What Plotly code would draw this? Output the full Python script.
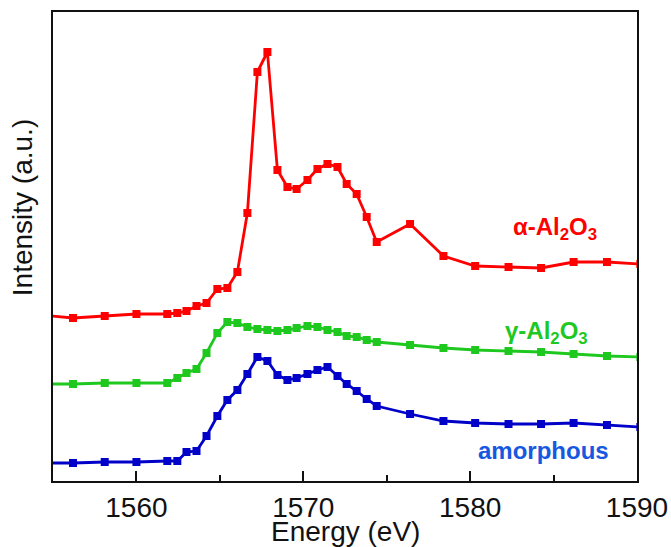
import plotly.graph_objects as go

# Energy (eV) values
energy = [1554.3, 1556.2, 1558.1, 1560.0, 1561.85, 1562.45, 1563.0, 1563.6, 1564.2, 1564.85,
          1565.45, 1566.05, 1566.65, 1567.25, 1567.85, 1568.45, 1569.05, 1569.6, 1570.25,
          1570.85, 1571.45, 1572.05, 1572.6, 1573.2, 1573.8, 1574.4, 1576.4, 1578.4, 1580.3,
          1582.3, 1584.25, 1586.2, 1588.2, 1590.2]

alpha_al2o3 = [1.65, 1.62, 1.64, 1.66, 1.66, 1.67, 1.69, 1.74, 1.77, 1.91,
               1.92, 2.08, 2.67, 4.08, 4.28, 3.10, 2.93, 2.91, 3.00,
               3.11, 3.16, 3.13, 2.96, 2.86, 2.63, 2.38, 2.56, 2.24, 2.14,
               2.13, 2.12, 2.18, 2.18, 2.16]

gamma_al2o3 = [0.96, 0.96, 0.97, 0.97, 0.97, 1.02, 1.07, 1.11, 1.27, 1.47,
               1.58, 1.57, 1.53, 1.51, 1.50, 1.49, 1.50, 1.52, 1.54,
               1.53, 1.50, 1.48, 1.44, 1.43, 1.40, 1.38, 1.35, 1.32, 1.30,
               1.29, 1.28, 1.26, 1.24, 1.23]

amorphous = [0.17, 0.17, 0.18, 0.18, 0.19, 0.19, 0.28, 0.29, 0.44, 0.64,
             0.80, 0.90, 1.06, 1.23, 1.19, 1.05, 1.00, 1.02, 1.06,
             1.10, 1.13, 1.04, 0.96, 0.89, 0.81, 0.74, 0.66, 0.59, 0.57,
             0.56, 0.56, 0.57, 0.55, 0.53]

series = [
    ("α-Al2O3", alpha_al2o3, "#ff0000"),
    ("γ-Al2O3", gamma_al2o3, "#1ec81e"),
    ("amorphous", amorphous, "#0000c8"),
]

fig = go.Figure()
for name, vals, col in series:
    fig.add_trace(go.Scatter(
        x=energy, y=vals, mode="lines+markers", name=name,
        line=dict(color=col, width=2.8),
        marker=dict(symbol="square", size=8, color=col),
        cliponaxis=True, showlegend=False,
    ))

font = "Liberation Sans, Arial, sans-serif"

fig.add_annotation(x=1585.1, y=2.52, xref="x", yref="y",
                   text="<b>α-Al<sub>2</sub>O<sub>3</sub></b>",
                   showarrow=False, font=dict(family=font, size=24, color="#ff0000"))
fig.add_annotation(x=1584.55, y=1.48, xref="x", yref="y",
                   text="<b>γ-Al<sub>2</sub>O<sub>3</sub></b>",
                   showarrow=False, font=dict(family=font, size=24, color="#1ec81e"))
fig.add_annotation(x=1584.4, y=0.30, xref="x", yref="y",
                   text="<b>amorphous</b>",
                   showarrow=False, font=dict(family=font, size=24, color="#1658e0"))

# y-axis title (placed off-centre as in the reference)
fig.add_annotation(x=-0.052, y=0.583, xref="paper", yref="paper",
                   xanchor="center", yanchor="middle",
                   text="Intensity (a.u.)", textangle=-90, showarrow=False,
                   font=dict(family=font, size=28, color="#111111"))

# x-axis title
fig.add_annotation(x=0.5, y=-0.108, xref="paper", yref="paper",
                   xanchor="center", yanchor="middle",
                   text="Energy (eV)", showarrow=False,
                   font=dict(family=font, size=28, color="#111111"))

fig.update_layout(
    width=671, height=547,
    margin=dict(l=53, r=34, t=12, b=66),
    paper_bgcolor="white", plot_bgcolor="white",
    font=dict(family=font, color="#111111"),
    xaxis=dict(
        range=[1555, 1590], tickvals=[1560, 1570, 1580, 1590],
        ticks="inside", ticklen=10, tickwidth=1.5, tickcolor="#111111",
        minor=dict(tickvals=[1555, 1565, 1575, 1585], ticks="inside", ticklen=6,
                   tickwidth=1.5, tickcolor="#111111"),
        showline=True, linecolor="#111111", linewidth=2, mirror=True,
        showgrid=False, zeroline=False,
        tickfont=dict(size=28), ticklabelstandoff=0,
        automargin=False,
    ),
    yaxis=dict(
        range=[-0.01, 4.68], showticklabels=False, ticks="",
        showline=True, linecolor="#111111", linewidth=2, mirror=True,
        showgrid=False, zeroline=False, automargin=False,
    ),
)

fig.write_html("out.html", config={"displayModeBar": False},
               post_script="document.body.style.margin='0';")
